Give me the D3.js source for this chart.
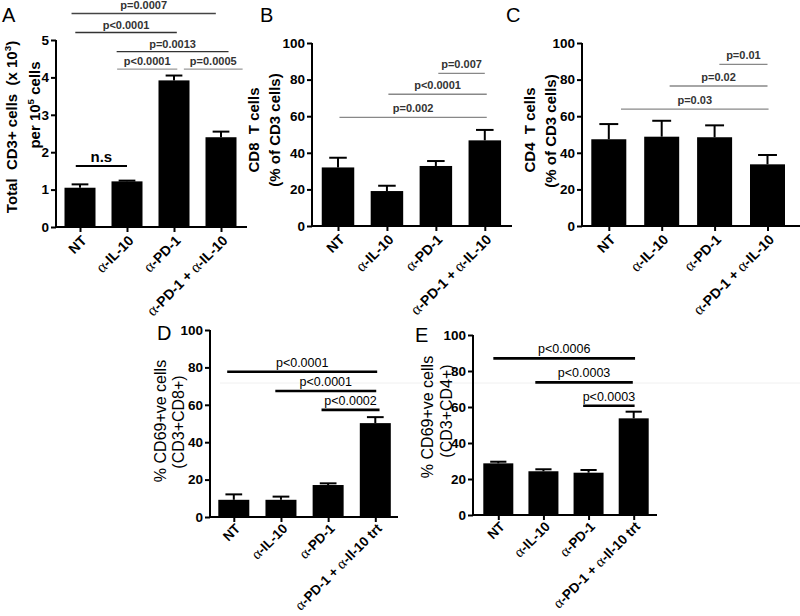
<!DOCTYPE html>
<html><head><meta charset="utf-8">
<script src="https://cdn.jsdelivr.net/npm/d3@7"></script>
<style>body{margin:0;background:#fff} svg{display:block}</style>
</head><body>
<svg id="chart" width="800" height="616"></svg>
<script>
// ---------------- DATA ----------------
const catsABC = ["NT", "α-IL-10", "α-PD-1", "α-PD-1 + α-IL-10"];
const catsDE  = ["NT", "α-IL-10", "α-PD-1", "α-PD-1 + α-Il-10 trt"];

const ticksA = [0, 1, 2, 3, 4, 5];
const ticksPct = [0, 20, 40, 60, 80, 100];

const meanA = [1.05, 1.22, 3.92, 2.40];
const errA  = [0.09, 0.02, 0.13, 0.15];
const meanB = [32.0, 19.1, 32.8, 46.8];
const errB  = [5.3, 2.9, 2.7, 5.7];
const meanC = [47.4, 48.8, 48.5, 33.7];
const errC  = [8.3, 8.7, 6.5, 5.1];
const meanD = [9.2, 9.2, 17.1, 50.2];
const errD  = [2.9, 1.7, 0.9, 3.2];
const meanE = [28.7, 24.3, 23.5, 53.7];
const errE  = [0.9, 1.1, 1.5, 3.7];

// significance brackets: category-index extents and value level
const sigA = [
  {from: -0.18, to: 2.89, v: 5.71, label: "p=0.0007"},
  {from: -0.10, to: 2.06, v: 5.20, label: "p<0.0001"},
  {from: 0.78,  to: 3.16, v: 4.69, label: "p=0.0013"},
  {from: 0.79,  to: 2.07, v: 4.22, label: "p<0.0001"},
  {from: 2.21,  to: 3.46, v: 4.22, label: "p=0.0005"}
];
const nsA = [{from: -0.09, to: 1.0, v: 1.63, label: "n.s"}];
const sigB = [
  {from: 2.05, to: 3.0,  v: 83.4, label: "p=0.007"},
  {from: 1.03, to: 3.04, v: 72.0, label: "p<0.0001"},
  {from: 0.03, to: 3.04, v: 59.4, label: "p=0.002"}
];
const sigC = [
  {from: 2.09, to: 3.0,  v: 88.3, label: "p=0.01"},
  {from: 1.15, to: 3.0,  v: 76.5, label: "p=0.02"},
  {from: 0.23, to: 3.02, v: 63.9, label: "p=0.03"}
];
const sigD = [
  {from: -0.14, to: 3.04, v: 77.7, label: "p<0.0001"},
  {from: 0.88,  to: 3.02, v: 67.4, label: "p<0.0001"},
  {from: 1.86,  to: 3.09, v: 57.3, label: "p<0.0002"}
];
const sigE = [
  {from: -0.11, to: 3.03, v: 87.0, label: "p<0.0006"},
  {from: 0.82,  to: 2.98, v: 73.7, label: "p<0.0003"},
  {from: 1.88,  to: 3.02, v: 60.7, label: "p<0.0003"}
];

// ---------------- LAYOUT / STYLE ----------------
const SANS = "'Liberation Sans', Arial, Helvetica, sans-serif";
const SERIF = "'Liberation Serif', 'Times New Roman', serif";

const panels = [
  {letter: "A", lx: 2, ly: 22, cats: catsABC, mean: meanA, err: errA, ticks: ticksA,
   sig: sigA, sigColors: ["#444", "#333", "#333", "#999", "#999"], sigWidth: 1.4, sigFont: 11, sigWeight: "bold", sigText: "#333", sigGap: 4,
   ns: nsA, xlabSize: 14, alphaSize: 16, xlabDy: 11,
   axisX: 56, xEnd: 247, yTop: 40, yBot: 227, c0: 80, c1: 221, bw: 31,
   ylab: [
     {parts: [{t: "Total  CD3+ cells  (x 10"}, {t: "3", sup: true}, {t: ")"}], x: 12, y: 127, size: 15, bold: true},
     {parts: [{t: "per 10"}, {t: "5", sup: true}, {t: " cells"}], x: 35, y: 105, size: 15, bold: true}
   ]},
  {letter: "B", lx: 260, ly: 22, cats: catsABC, mean: meanB, err: errB, ticks: ticksPct,
   sig: sigB, sigColors: ["#888", "#888", "#888"], sigWidth: 1.3, sigFont: 11, sigWeight: "bold", sigText: "#333", sigGap: 5,
   xlabSize: 14, alphaSize: 16, xlabDy: 11,
   axisX: 312, xEnd: 512, yTop: 43, yBot: 226, c0: 338, c1: 484.8, bw: 32.5,
   ylab: [
     {parts: [{t: "CD8  T cells"}], x: 254, y: 130, size: 15, bold: true},
     {parts: [{t: "(% of CD3 cells)"}], x: 275, y: 130, size: 15, bold: true}
   ]},
  {letter: "C", lx: 506, ly: 22, cats: catsABC, mean: meanC, err: errC, ticks: ticksPct,
   sig: sigC, sigColors: ["#888", "#888", "#888"], sigWidth: 1.3, sigFont: 11, sigWeight: "bold", sigText: "#333", sigGap: 5,
   xlabSize: 14, alphaSize: 16, xlabDy: 11,
   axisX: 582, xEnd: 800, yTop: 43, yBot: 226, c0: 608.8, c1: 767.5, bw: 35,
   ylab: [
     {parts: [{t: "CD4  T cells"}], x: 530, y: 130, size: 15, bold: true},
     {parts: [{t: "(% of CD3 cells)"}], x: 551, y: 131, size: 15, bold: true}
   ]},
  {letter: "D", lx: 157, ly: 340, cats: catsDE, mean: meanD, err: errD, ticks: ticksPct,
   sig: sigD, sigColors: ["#000", "#000", "#000"], sigWidth: 2.6, sigFont: 12.5, sigWeight: "normal", sigText: "#000", sigGap: 5,
   xlabSize: 13.5, alphaSize: 15, xlabDy: 9,
   axisX: 210, xEnd: 398, yTop: 330, yBot: 517, c0: 233.8, c1: 375.3, bw: 31,
   ylab: [
     {parts: [{t: "% CD69+ve cells"}], x: 160, y: 421, size: 16, bold: false},
     {parts: [{t: "(CD3+CD8+)"}], x: 178, y: 422, size: 16, bold: false}
   ]},
  {letter: "E", lx: 415, ly: 342, cats: catsDE, mean: meanE, err: errE, ticks: ticksPct,
   sig: sigE, sigColors: ["#000", "#000", "#000"], sigWidth: 2.6, sigFont: 12.5, sigWeight: "normal", sigText: "#000", sigGap: 5,
   xlabSize: 13.5, alphaSize: 15, xlabDy: 9,
   axisX: 473, xEnd: 657, yTop: 335, yBot: 515, c0: 498.3, c1: 633.7, bw: 30,
   ylab: [
     {parts: [{t: "% CD69+ve cells"}], x: 427, y: 417, size: 16, bold: false},
     {parts: [{t: "(CD3+CD4+)"}], x: 446, y: 411, size: 16, bold: false}
   ]}
];

const svg = d3.select("#chart");

// faint scan artefact line seen in the reference
svg.append("line").attr("x1", 220).attr("x2", 800).attr("y1", 383).attr("y2", 383)
  .attr("stroke", "#f0f0f0").attr("stroke-width", 1);

function addRich(textSel, parts, size) {
  parts.forEach((p, i) => {
    const ts = textSel.append("tspan").text(p.t);
    if (p.sup) {
      ts.attr("font-size", size * 0.65).attr("dy", -size * 0.4);
    } else if (i > 0 && parts[i - 1].sup) {
      ts.attr("dy", size * 0.4);
    }
  });
}

function drawPanel(p) {
  const g = svg.append("g");
  const y = d3.scaleLinear().domain([0, p.ticks[p.ticks.length - 1]]).range([p.yBot, p.yTop]);
  const x = d3.scaleLinear().domain([0, p.cats.length - 1]).range([p.c0, p.c1]);

  // panel letter
  svg.append("text").attr("x", p.lx).attr("y", p.ly).text(p.letter)
    .attr("font-family", SANS).attr("font-size", 20).attr("fill", "#000");

  // bars
  g.selectAll("rect.bar").data(p.mean).join("rect").attr("class", "bar")
    .attr("x", (d, i) => x(i) - p.bw / 2)
    .attr("y", d => y(d))
    .attr("width", p.bw)
    .attr("height", d => y(0) - y(d))
    .attr("fill", "#000");

  // error bars (upper only)
  const eb = g.selectAll("g.eb").data(p.mean.map((m, i) => ({m, e: p.err[i], i}))).join("g").attr("class", "eb");
  eb.append("line")
    .attr("x1", d => x(d.i)).attr("x2", d => x(d.i))
    .attr("y1", d => y(d.m)).attr("y2", d => y(d.m + d.e))
    .attr("stroke", "#000").attr("stroke-width", 2);
  eb.append("line")
    .attr("x1", d => x(d.i) - p.bw * 0.27).attr("x2", d => x(d.i) + p.bw * 0.27)
    .attr("y1", d => y(d.m + d.e)).attr("y2", d => y(d.m + d.e))
    .attr("stroke", "#000").attr("stroke-width", 2);

  // y axis
  const ya = g.append("g").attr("transform", `translate(${p.axisX},0)`)
    .call(d3.axisLeft(y).tickValues(p.ticks).tickSize(5).tickSizeOuter(0).tickPadding(2).tickFormat(d3.format("d")));
  ya.select(".domain").attr("stroke-width", 2).attr("d", `M0,${p.yBot + 1}V${p.yTop}`);
  ya.selectAll(".tick line").attr("stroke-width", 2);
  ya.selectAll(".tick text").attr("font-family", SANS).attr("font-weight", "bold")
    .attr("font-size", 13.5).attr("fill", "#000");

  // x axis
  const xa = g.append("g").attr("transform", `translate(0,${p.yBot})`)
    .call(d3.axisBottom(x).tickValues(d3.range(p.cats.length)).tickSize(5).tickSizeOuter(0).tickFormat(""));
  xa.select(".domain").remove();
  xa.selectAll(".tick line").attr("stroke-width", 2);
  g.append("line").attr("x1", p.axisX - 1).attr("x2", p.xEnd).attr("y1", p.yBot).attr("y2", p.yBot)
    .attr("stroke", "#000").attr("stroke-width", 2);

  // x labels
  p.cats.forEach((c, i) => {
    const t = g.append("text")
      .attr("transform", `translate(${x(i) + 4},${p.yBot + p.xlabDy}) rotate(-45)`)
      .attr("text-anchor", "end")
      .attr("dy", "0.35em")
      .attr("font-family", SANS).attr("font-weight", "bold").attr("font-size", p.xlabSize).attr("fill", "#000");
    const segs = c.split(/(α)/).filter(s => s.length);
    segs.forEach(s => {
      const ts = t.append("tspan").text(s);
      if (s === "α") ts.attr("font-family", SERIF).attr("font-weight", "normal").attr("font-size", p.alphaSize);
    });
  });

  // y labels
  p.ylab.forEach(l => {
    const t = g.append("text")
      .attr("transform", `translate(${l.x},${l.y}) rotate(-90)`)
      .attr("text-anchor", "middle").attr("dy", "0.35em")
      .style("white-space", "pre")
      .attr("font-family", SANS).attr("font-weight", l.bold ? "bold" : "normal")
      .attr("font-size", l.size).attr("fill", "#000");
    addRich(t, l.parts, l.size);
  });

  // significance brackets
  p.sig.forEach((s, i) => {
    const yy = y(s.v);
    g.append("line").attr("x1", x(s.from)).attr("x2", x(s.to)).attr("y1", yy).attr("y2", yy)
      .attr("stroke", p.sigColors[i]).attr("stroke-width", p.sigWidth);
    g.append("text").attr("x", (x(s.from) + x(s.to)) / 2).attr("y", yy - p.sigGap)
      .attr("text-anchor", "middle").attr("font-family", SANS)
      .attr("font-weight", p.sigWeight).attr("font-size", p.sigFont).attr("fill", p.sigText)
      .text(s.label);
  });
  if (p.ns) {
    p.ns.forEach(s => {
      const yy = y(s.v);
      g.append("line").attr("x1", x(s.from)).attr("x2", x(s.to)).attr("y1", yy).attr("y2", yy)
        .attr("stroke", "#000").attr("stroke-width", 2);
      g.append("text").attr("x", (x(s.from) + x(s.to)) / 2).attr("y", yy - 4)
        .attr("text-anchor", "middle").attr("font-family", SANS).attr("font-weight", "bold")
        .attr("font-size", 15).attr("fill", "#000").text(s.label);
    });
  }
}

panels.forEach(drawPanel);
</script>
</body></html>
